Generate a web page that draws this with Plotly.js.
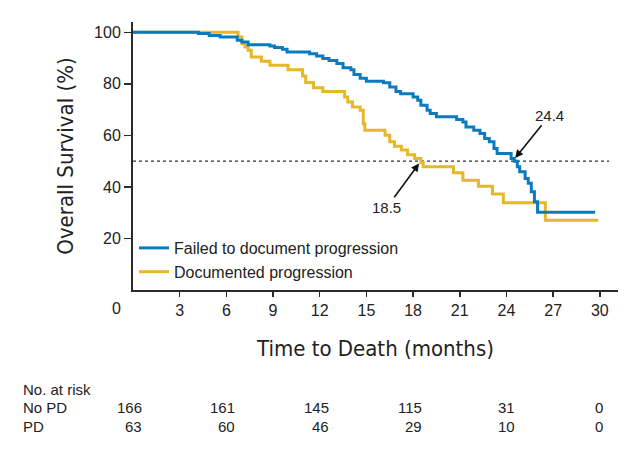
<!DOCTYPE html>
<html><head><meta charset="utf-8">
<script src="https://cdn.plot.ly/plotly-3.0.1.min.js"></script>
<style>
html,body{margin:0;padding:0;background:#fff;}
#chart{width:640px;height:452px;outline:2px solid #3a3a3a;outline-offset:-2px;}
</style>
</head><body><div id="chart"></div>
<script>
// Kaplan-Meier steps: time (months) and survival (%) after each step
const noPdTime = [0, 4.2, 4.9, 5.6, 6.7, 7.0, 7.4, 8.8, 9.1, 9.6, 9.9, 11.35, 11.8, 12.2, 12.6, 13.1, 13.5, 14.0, 14.2, 14.6, 15.0, 16.1, 16.5, 16.9, 17.2, 18.0, 18.3, 18.5, 18.9, 19.1, 19.5, 20.8, 21.2, 21.4, 21.9, 22.3, 22.6, 22.9, 23.2, 23.4, 24.3, 24.5, 24.7, 24.85, 25.2, 25.4, 25.6, 25.8, 26.0, 29.7];
const noPdSurv = [100, 99.5, 98.8, 98.2, 96.9, 96.2, 95.2, 94.7, 94.1, 93.4, 92.4, 91.7, 90.8, 89.8, 89.1, 87.9, 86.2, 85.5, 83.6, 82.2, 81.0, 80.4, 78.8, 77.0, 76.2, 74.9, 73.6, 71.7, 69.8, 68.5, 67.2, 66.2, 65.2, 63.3, 62.0, 60.7, 58.8, 57.5, 54.9, 53.0, 51.0, 50.0, 47.8, 45.9, 43.3, 41.4, 38.1, 34.2, 30.2, 30.2];
const pdTime = [0, 6.75, 7.0, 7.2, 7.4, 7.6, 8.25, 8.8, 9.96, 10.9, 11.1, 11.6, 12.2, 13.6, 13.8, 14.1, 14.6, 14.8, 14.9, 16.2, 16.5, 16.8, 17.25, 17.65, 18.1, 18.5, 18.65, 20.6, 21.2, 22.2, 23.1, 23.8, 26.5, 29.9];
const pdSurv = [100, 98.2, 95.6, 94.3, 93.0, 90.4, 88.8, 87.2, 85.5, 83.0, 80.5, 78.5, 77.0, 74.9, 73.0, 71.0, 69.8, 64.5, 62.0, 60.1, 57.5, 55.8, 54.3, 52.5, 51.0, 49.5, 47.8, 45.5, 42.6, 40.3, 37.3, 33.9, 27.1, 27.1];

const seriesNames = ['Failed to document progression', 'Documented progression'];
const xTicks = [3, 6, 9, 12, 15, 18, 21, 24, 27, 30];
const yTicks = [20, 40, 60, 80, 100];
const riskMonths = [0, 6, 12, 18, 24, 30];
const riskRowLabels = ['No PD', 'PD'];
const riskNoPD = [166, 161, 145, 115, 31, 0];
const riskPD = [63, 60, 46, 29, 10, 0];
const medianNoPD = 24.4;
const medianPD = 18.5;
const medianLevel = 50;

const BLUE = '#0b7bc0', YELLOW = '#e5b72a', INK = '#222222';
const FONT = 'Liberation Sans, Arial, sans-serif';
const NARROW = 'Liberation Sans Narrow, DejaVu Sans Condensed, Roboto Condensed, sans-serif';

const M = {l: 133, r: 22, t: 22, b: 162};
const W = 640, H = 452;
const PW = W - M.l - M.r, PH = H - M.t - M.b;
const px2x = p => (p - M.l) / PW;
const py2y = p => (H - M.b - p) / PH;

const traces = [
  {x: pdTime, y: pdSurv, name: seriesNames[1], type: 'scatter', mode: 'lines',
   line: {shape: 'hv', color: YELLOW, width: 3}, legendrank: 2},
  {x: noPdTime, y: noPdSurv, name: seriesNames[0], type: 'scatter', mode: 'lines',
   line: {shape: 'hv', color: BLUE, width: 3}, legendrank: 1}
];

const annotations = [
  {text: '0', xref: 'paper', yref: 'paper', x: px2x(116), y: py2y(308), xanchor: 'center', yanchor: 'middle',
   showarrow: false, font: {family: FONT, size: 16, color: INK}},
  {text: String(medianNoPD), x: medianNoPD, y: medianLevel, xref: 'x', yref: 'y', showarrow: true,
   ax: 37, ay: -46, arrowhead: 2, arrowsize: 1, arrowwidth: 1.6, arrowcolor: '#111', standoff: 4,
   font: {family: FONT, size: 15, color: INK}},
  {text: String(medianPD), x: medianPD, y: medianLevel, xref: 'x', yref: 'y', showarrow: true,
   ax: -34, ay: 46, arrowhead: 2, arrowsize: 1, arrowwidth: 1.6, arrowcolor: '#111', standoff: 3,
   font: {family: FONT, size: 15, color: INK}},
  {text: 'No. at risk', xref: 'paper', yref: 'paper', x: px2x(21), y: py2y(389), xanchor: 'left', yanchor: 'middle',
   showarrow: false, font: {family: FONT, size: 15, color: INK}}
];
const rowY = [407, 426];
[riskNoPD, riskPD].forEach((row, r) => {
  annotations.push({text: riskRowLabels[r], xref: 'paper', yref: 'paper', x: px2x(21), y: py2y(rowY[r]),
    xanchor: 'left', yanchor: 'middle', showarrow: false, font: {family: FONT, size: 15, color: INK}});
  row.forEach((v, i) => {
    annotations.push({text: String(v), xref: 'x', yref: 'paper', x: riskMonths[i], y: py2y(rowY[r]),
      xanchor: 'right', yanchor: 'middle', xshift: i === row.length - 1 ? 5 : 11, showarrow: false,
      font: {family: FONT, size: 15, color: INK}});
  });
});

const layout = {
  width: W, height: H, margin: M,
  paper_bgcolor: '#fff', plot_bgcolor: '#fff',
  font: {family: FONT, color: INK},
  showlegend: true,
  legend: {x: px2x(134), y: py2y(231), xanchor: 'left', yanchor: 'top', bgcolor: 'rgba(0,0,0,0)',
           borderwidth: 0, font: {family: FONT, size: 16, color: INK}, tracegroupgap: 0},
  xaxis: {range: [0, 31.17], tickmode: 'array', tickvals: xTicks, ticktext: xTicks.map(String),
          showline: true, linecolor: '#2a2a2a', linewidth: 2, ticks: 'outside', ticklen: 5, tickwidth: 1.5,
          tickcolor: '#2a2a2a', showgrid: false, zeroline: false, fixedrange: true,
          tickfont: {family: FONT, size: 16, color: INK},
          title: {text: 'Time to Death (months)', font: {family: NARROW, size: 22, color: INK}, standoff: 22}},
  yaxis: {range: [0, 104], tickmode: 'array', tickvals: yTicks, ticktext: yTicks.map(String),
          showline: true, linecolor: '#2a2a2a', linewidth: 2, ticks: 'outside', ticklen: 7, tickwidth: 1.5,
          tickcolor: '#2a2a2a', showgrid: false, zeroline: false, fixedrange: true,
          tickfont: {family: FONT, size: 16, color: INK},
          title: {text: 'Overall Survival (%)', font: {family: NARROW, size: 22, color: INK}, standoff: 14}},
  shapes: [
    {type: 'line', xref: 'x', yref: 'y', x0: 0, x1: 30.6, y0: medianLevel, y1: medianLevel,
     line: {color: '#333', width: 1.2, dash: 'dot'}, layer: 'below'}
  ],
  annotations: annotations
};

Plotly.newPlot('chart', traces, layout, {displayModeBar: false, staticPlot: true});
</script>
</body></html>
